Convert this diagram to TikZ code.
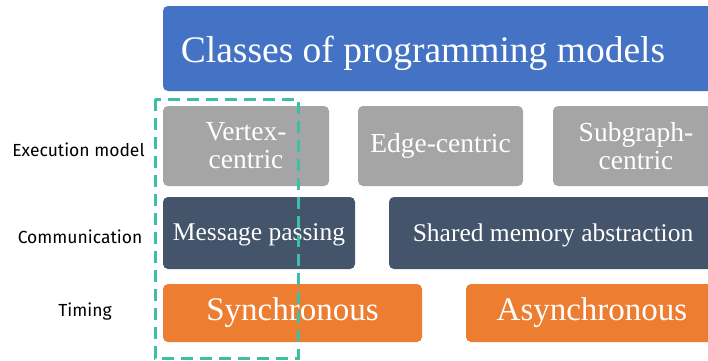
\documentclass[tikz,border=0pt]{standalone}
\usepackage{fontspec}
\setmainfont{Liberation Serif}
\newfontfamily\rowfont{Fira Sans}
\usetikzlibrary{positioning}

\definecolor{titleblue}{HTML}{4472C4}
\definecolor{boxgray}{HTML}{A5A5A5}
\definecolor{boxslate}{HTML}{44546A}
\definecolor{boxorange}{HTML}{ED7D31}
\definecolor{dashteal}{HTML}{3DBFA6}

\tikzset{
    model/.style={rectangle, rounded corners=5pt, text=white, inner sep=0pt,
        align=center, minimum height=#1},
    exec/.style={model=80pt, fill=boxgray, font=\fontsize{27.5}{28}\selectfont},
    comm/.style={model=72pt, fill=boxslate},
    commtext/.style={text=white, font=\fontsize{25.5}{26}\selectfont},
    timing/.style={model=58pt, fill=boxorange, font=\fontsize{33}{33}\selectfont},
    rowlabel/.style={font=\rowfont\fontsize{17.5}{18}\selectfont, anchor=center}
}

\begin{document}
\begin{tikzpicture}[x=1pt, y=-1pt]

    \clip (0,0) rectangle (708,360);
    \fill[white] (0,0) rectangle (708,360);

    % Title
    \node [model=85pt, fill=titleblue, minimum width=560pt] (title) at (443,48.5) {};
    \node [text=white, anchor=base, font=\fontsize{37.5}{38}\selectfont] (titletext) at (423,62) {Classes of programming models};

    % Execution model
    \node [exec, minimum width=166pt] (vertex) at (246,146) {Vertex-\\centric};
    \node [exec, minimum width=165pt] (edge) at (440.5,146) {Edge-centric};
    \node [exec, minimum width=166pt] (subgraph) at (636,146) {Subgraph-\\centric};

    % Communication
    \node [comm, minimum width=192pt] (message) at (259,233) {};
    \node [comm, minimum width=328pt] (shared) at (553,233) {};
    \node [commtext] (messagetext) at (259,235) {Message passing};
    \node [commtext] (sharedtext) at (553,235) {Shared memory abstraction};

    % Timing
    \node [timing, minimum width=259pt] (sync) at (292.5,313) {Synchronous};
    \node [timing, minimum width=252pt] (async) at (592,313) {Asynchronous};

    % Row labels
    \node [rowlabel] (lexec) at (78.5,150) {Execution model};
    \node [rowlabel] (lcomm) at (80,237) {Communication};
    \node [rowlabel] (ltiming) at (85,312) {Timing};

    % Highlight
    \draw [dashteal, line width=3pt, dash pattern=on 12pt off 7pt] (155,99) rectangle (298,358);

\end{tikzpicture}
\end{document}
